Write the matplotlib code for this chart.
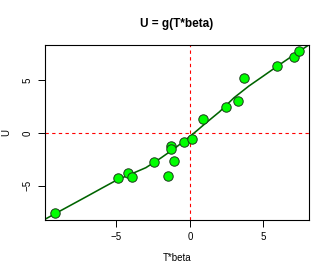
import matplotlib
matplotlib.use("Agg")
import matplotlib.pyplot as plt

plt.rcParams['font.family'] = ['Liberation Sans', 'DejaVu Sans']

# observed points
pt_x = [-9.18, -4.88, -4.2, -3.95, -2.43, -1.5, -1.27, -1.31, -1.09, -0.41, 0.11,
        0.86, 2.45, 3.24, 3.67, 5.94, 7.07, 7.41]
pt_y = [-7.65, -4.26, -3.78, -4.16, -2.79, -4.06, -1.24, -1.55, -2.64, -0.83, -0.6,
        1.33, 2.5, 3.05, 5.2, 6.38, 7.2, 7.8]

# fitted curve g
fit_x = [-9.86, -9, -8, -7, -6, -5, -4, -3, -2, -1, 0, 0.5, 1, 2, 3, 4, 5, 6, 7, 8.1]
fit_y = [-8.2, -7.54, -6.78, -6.02, -5.25, -4.49, -3.9, -3.3, -2.4, -1.42, -0.33,
         0.25, 0.85, 2.0, 3.35, 4.45, 5.42, 6.4, 7.35, 8.38]

xticks = [-5, 0, 5]
yticks = [-5, 0, 5]

fig = plt.figure(figsize=(3.32, 2.77), dpi=100)
ax = fig.add_axes([45/332, 57/277, 264/332, 175/277])

ax.axhline(0, color="red", ls=(0, (3, 3)), lw=0.8, zorder=1)
ax.axvline(0, color="red", ls=(0, (3, 3)), lw=0.8, zorder=1)
ax.plot(fit_x, fit_y, color="#006400", lw=1.15, zorder=2)
ax.scatter(pt_x, pt_y, s=46, facecolor="#00FF00", edgecolor="#1a3a1a", lw=0.7, zorder=3)

ax.set_xlim(-9.86, 8.1)
ax.set_ylim(-8.27, 8.36)
ax.set_xticks(xticks)
ax.set_yticks(yticks)
ax.set_xticklabels(["\u22125", "0", "5"])
ax.set_yticklabels(["\u22125", "0", "5"], rotation=90, va="center")
ax.tick_params(labelsize=7, length=5, width=0.7, pad=4)
for s in ax.spines.values():
    s.set_linewidth(0.8)

ax.text(0.5, 1 + 21/175, "U = g(T*beta)", transform=ax.transAxes, fontsize=8.5,
        fontweight="bold", ha="center", va="center")
ax.set_xlabel("T*beta", fontsize=7, va="center")
ax.xaxis.set_label_coords(0.5, -38/175)
ax.set_ylabel("U", fontsize=7, va="center")
ax.yaxis.set_label_coords(-39/264, 0.5)

fig.savefig("out.png", dpi=100)
